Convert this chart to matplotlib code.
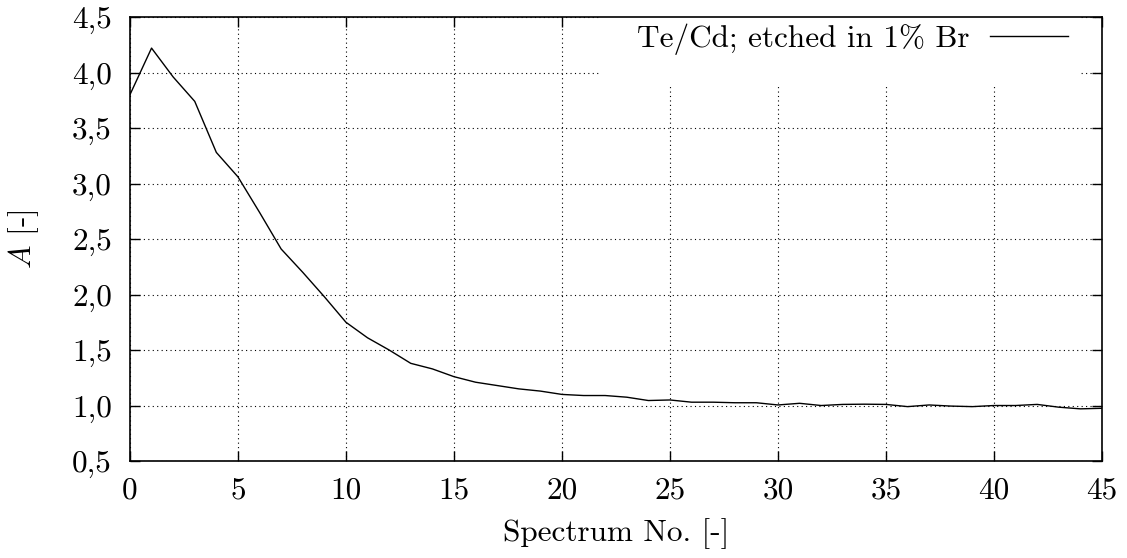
import numpy as np
import matplotlib
matplotlib.use("Agg")
import matplotlib.pyplot as plt
from matplotlib.patches import Rectangle

plt.rcParams['font.family'] = ['cmr10', 'DejaVu Serif']
plt.rcParams['mathtext.fontset'] = 'cm'
plt.rcParams['axes.formatter.use_mathtext'] = True

# absorbance per spectrum
spectrum = np.arange(0, 46)
absorb = [3.80, 4.22, 3.96, 3.74, 3.28, 3.06, 2.74, 2.41, 2.20, 1.98,
          1.75, 1.61, 1.50, 1.38, 1.33, 1.26, 1.21, 1.18, 1.15, 1.13,
          1.10, 1.09, 1.09, 1.075, 1.045, 1.05, 1.03, 1.03, 1.025, 1.025,
          1.005, 1.02, 1.00, 1.01, 1.012, 1.01, 0.99, 1.005, 0.995, 0.99,
          1.00, 1.00, 1.01, 0.985, 0.97, 0.975]

xticks = np.arange(0, 46, 5)
yticks = np.arange(0.5, 4.51, 0.5)
fs = 22.5

fig = plt.figure(figsize=(11.27, 5.58), dpi=100)
ax = fig.add_axes([0.1153, 0.1738, 0.8625, 0.7957])
ax.plot(spectrum, absorb, color='black', linewidth=1.0,
        label='Te/Cd; etched in 1% Br', zorder=3)
ax.set_xlim(0, 45)
ax.set_ylim(0.5, 4.5)
ax.set_xticks(xticks)
ax.set_xticklabels([str(v) for v in xticks])
ax.set_yticks(yticks)
ax.set_yticklabels([('%.1f' % v).replace('.', ',') for v in yticks])
ax.tick_params(direction='in', length=7, width=1, top=True, right=True,
               labelsize=fs)
ax.tick_params(axis='x', pad=11)
ax.tick_params(axis='y', pad=13)
ax.grid(True, color='black', linestyle=(0, (1, 3)), linewidth=0.8)
for s in ax.spines.values():
    s.set_linewidth(1.2)
ax.set_xlabel('Spectrum No. [-]', fontsize=fs, labelpad=10)
ax.set_ylabel('$A$ [-]', fontsize=fs, labelpad=22)

# white key area hides the grid behind the legend
ax.add_patch(Rectangle((0.4835, 0.847), 0.494, 0.153, transform=ax.transAxes,
                       facecolor='white', edgecolor='none', zorder=1.8))
ax.legend(loc='center', bbox_to_anchor=(0.743, 0.95), markerfirst=False,
          fontsize=fs, frameon=False, handlelength=2.5, handletextpad=0.65,
          borderpad=0)
fig.savefig('out.png', dpi=100)
